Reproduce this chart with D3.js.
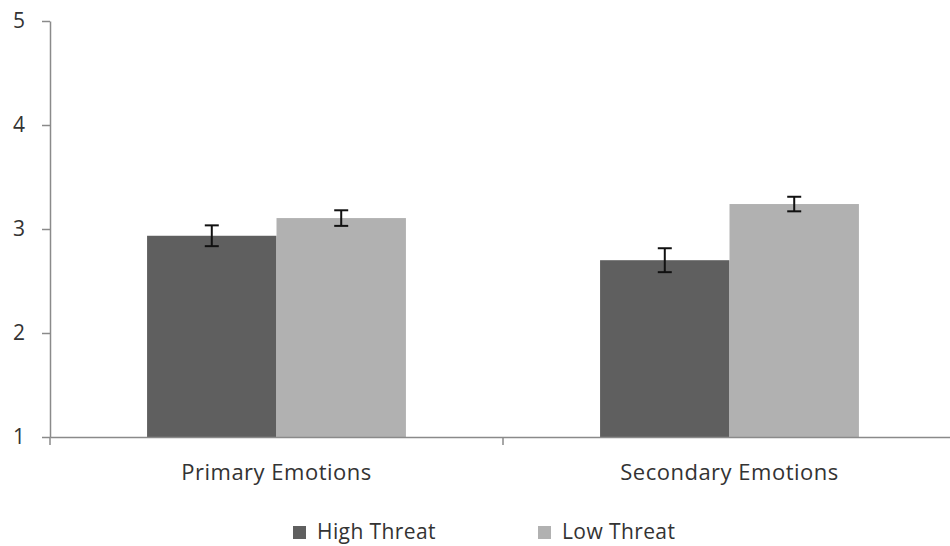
<!DOCTYPE html>
<html>
<head>
<meta charset="utf-8">
<script src="https://cdn.jsdelivr.net/npm/d3@7"></script>
<style>
  html, body { margin: 0; padding: 0; background: #fff; }
  svg { display: block; }
  text { font-family: "Open Sans", "Noto Sans", sans-serif; fill: #333; }
</style>
</head>
<body>
<svg id="chart" width="950" height="546"></svg>
<script>
// Mean ratings per emotion type and threat condition, with error bars
const categories = ["Primary Emotions", "Secondary Emotions"];
const seriesNames = ["High Threat", "Low Threat"];
const highThreat = [2.935, 2.70];
const lowThreat = [3.105, 3.24];
const highThreatErr = [0.10, 0.115];
const lowThreatErr = [0.075, 0.07];
const yTicks = [1, 2, 3, 4, 5];
const colors = ["#5f5f5f", "#b1b1b1"];

const svg = d3.select("#chart");

const x = d3.scaleBand().domain(categories).range([50, 956]).paddingInner(0).paddingOuter(0);
const xs = d3.scaleBand().domain(seriesNames).range([0, x.bandwidth()]).paddingInner(0).paddingOuter(0.75);
const y = d3.scaleLinear().domain([1, 5]).range([437, 21]);

const rows = categories.map((c, i) => ({
  cat: c,
  vals: [
    { s: seriesNames[0], v: highThreat[i], e: highThreatErr[i] },
    { s: seriesNames[1], v: lowThreat[i], e: lowThreatErr[i] }
  ]
}));

// Bars
const groups = svg.selectAll("g.grp").data(rows).join("g")
  .attr("class", "grp")
  .attr("transform", d => `translate(${x(d.cat)},0)`);

groups.selectAll("rect").data(d => d.vals).join("rect")
  .attr("x", d => xs(d.s))
  .attr("width", xs.bandwidth())
  .attr("y", d => y(d.v))
  .attr("height", d => y(1) - y(d.v))
  .attr("fill", (d, i) => colors[i]);

// Error bars
const eb = groups.selectAll("g.err").data(d => d.vals).join("g").attr("class", "err")
  .attr("transform", d => `translate(${xs(d.s) + xs.bandwidth() / 2},0)`);
eb.append("line").attr("x1", 0).attr("x2", 0)
  .attr("y1", d => y(d.v + d.e)).attr("y2", d => y(d.v - d.e))
  .attr("stroke", "#111").attr("stroke-width", 2);
eb.append("line").attr("x1", -7).attr("x2", 7)
  .attr("y1", d => y(d.v + d.e)).attr("y2", d => y(d.v + d.e))
  .attr("stroke", "#111").attr("stroke-width", 2);
eb.append("line").attr("x1", -7).attr("x2", 7)
  .attr("y1", d => y(d.v - d.e)).attr("y2", d => y(d.v - d.e))
  .attr("stroke", "#111").attr("stroke-width", 2);

// Y axis
const yAxis = svg.append("g").attr("transform", "translate(50,0)")
  .call(d3.axisLeft(y).tickValues(yTicks).tickFormat(d3.format("d")).tickSize(8).tickSizeOuter(0).tickPadding(17));
yAxis.select(".domain").attr("stroke", "#8a8a8a").attr("stroke-width", 1.5);
yAxis.selectAll(".tick line").attr("stroke", "#8a8a8a").attr("stroke-width", 1.5);
yAxis.selectAll(".tick text").style("font-size", "21px").attr("fill", "#333");

// X axis
const xAxis = svg.append("g").attr("transform", "translate(0,437)")
  .call(d3.axisBottom(x).tickSize(0).tickSizeOuter(0).tickPadding(27));
xAxis.select(".domain").attr("stroke", "#8a8a8a").attr("stroke-width", 1.5);
xAxis.selectAll(".tick text").style("font-size", "22px").style("letter-spacing", "0.5px").attr("fill", "#333");
// Category separators on the x axis
xAxis.selectAll("line.sep").data([x.range()[0], x(categories[1])]).join("line")
  .attr("class", "sep")
  .attr("x1", d => d).attr("x2", d => d).attr("y1", 0).attr("y2", 8)
  .attr("stroke", "#8a8a8a").attr("stroke-width", 1.5);

// Legend
const legendX = [293, 538];
const legend = svg.selectAll("g.leg").data(seriesNames).join("g").attr("class", "leg")
  .attr("transform", (d, i) => `translate(${legendX[i]},526)`);
legend.append("rect").attr("width", 13).attr("height", 13).attr("fill", (d, i) => colors[i]);
legend.append("text").attr("x", 24).attr("y", 13).style("font-size", "21px").style("letter-spacing", "0.4px").text(d => d);
</script>
</body>
</html>
